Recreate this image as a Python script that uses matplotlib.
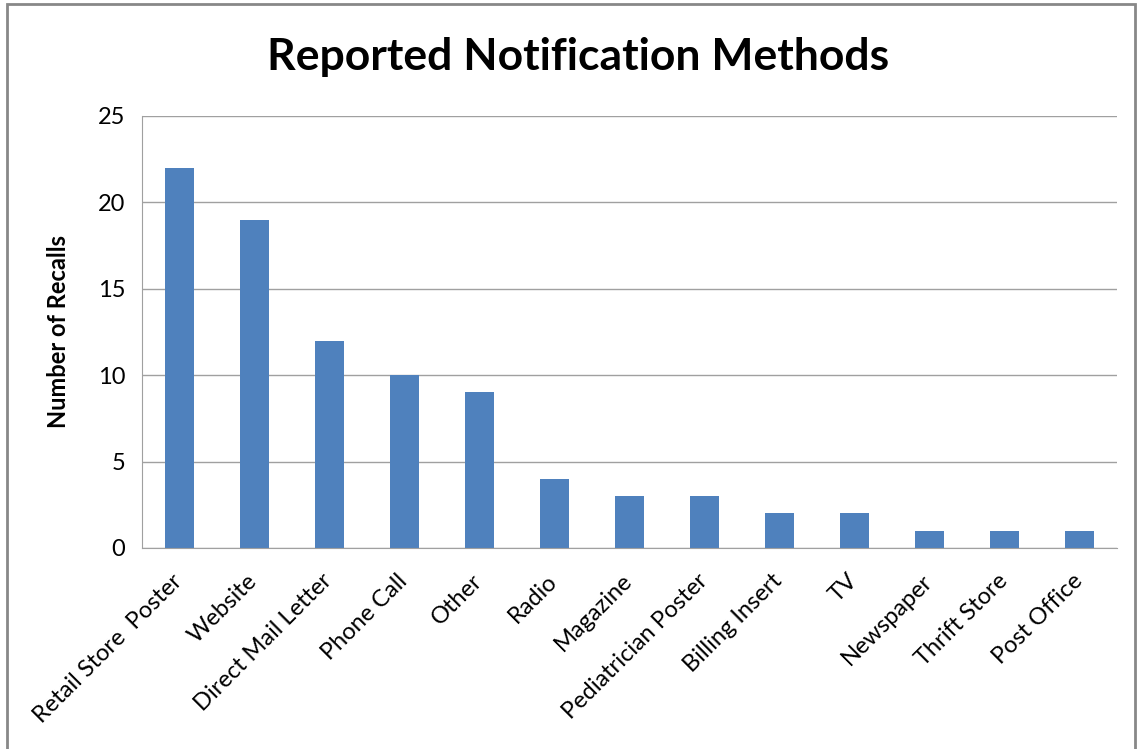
import matplotlib.pyplot as plt
import matplotlib.transforms as mtransforms
from matplotlib.patches import Rectangle

# Data
methods = ['Retail Store  Poster', 'Website', 'Direct Mail Letter', 'Phone Call', 'Other',
           'Radio', 'Magazine', 'Pediatrician Poster', 'Billing Insert', 'TV',
           'Newspaper', 'Thrift Store', 'Post Office']
recalls = [22, 19, 12, 10, 9, 4, 3, 3, 2, 2, 1, 1, 1]
y_ticks = [0, 5, 10, 15, 20, 25]

plt.rcParams['font.family'] = ['Lato', 'DejaVu Sans']

fig = plt.figure(figsize=(11.4, 7.49), dpi=100)
ax = fig.add_axes([0.1246, 0.2684, 0.8553, 0.5768])

x = range(len(methods))
ax.bar(x, recalls, width=0.39, color='#4F81BD')

ax.set_xlim(-0.5, len(methods) - 0.5)
ax.set_ylim(0, 25)
ax.set_yticks(y_ticks)
ax.yaxis.grid(True, color='#A0A0A0', linewidth=1)
ax.set_axisbelow(True)
ax.tick_params(axis='y', length=0, labelsize=17, pad=12)
ax.tick_params(axis='x', length=0, labelsize=17, pad=16)
ax.set_xticks(list(x))
ax.set_xticklabels(methods, rotation=45, ha='right', rotation_mode='anchor')

# nudge the rotated labels left a little so they end under the bars
shift = mtransforms.ScaledTranslation(-8 / 100, 0, fig.dpi_scale_trans)
for lbl in ax.get_xticklabels():
    lbl.set_transform(lbl.get_transform() + shift)

for side in ['top', 'right']:
    ax.spines[side].set_visible(False)
ax.spines['left'].set_color('#A0A0A0')
ax.spines['bottom'].set_color('#A0A0A0')

ax.set_ylabel('Number of Recalls', fontsize=17, fontweight='bold', labelpad=20)
fig.text(0.507, 0.924, 'Reported Notification Methods', ha='center', va='center',
         fontsize=32, fontweight='bold')

# chart border
fig.patches.append(Rectangle((0.006, -0.01), 0.99, 1.005, transform=fig.transFigure,
                             fill=False, edgecolor='#888888', linewidth=2))

fig.savefig('out.png', dpi=100)
